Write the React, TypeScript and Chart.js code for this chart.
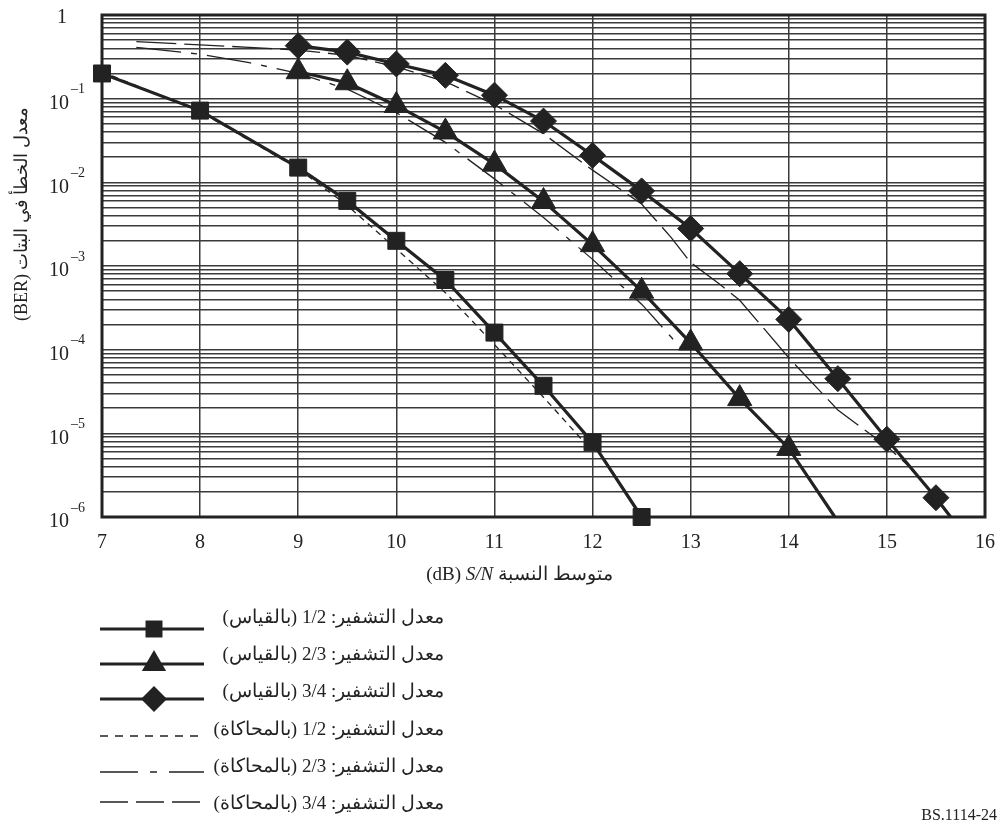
import React, { useEffect, useRef } from 'react';
import { Chart, registerables } from 'chart.js';

Chart.register(...registerables);

// ---- Data ----
const xTickValues = [7, 8, 9, 10, 11, 12, 13, 14, 15, 16];
const yDecadeExponents = [0, -1, -2, -3, -4, -5, -6];

// Measured, code rate 1/2 (squares)
const snrMeasured12 = [7, 8, 9, 9.5, 10, 10.5, 11, 11.5, 12, 12.5];
const berMeasured12 = [0.2, 0.072, 0.015, 0.006, 0.002, 6.8e-4, 1.6e-4, 3.7e-5, 7.8e-6, 1e-6];

// Measured, code rate 2/3 (triangles) - last point is where the line leaves the plot
const snrMeasured23 = [9, 9.5, 10, 10.5, 11, 11.5, 12, 12.5, 13, 13.5, 14, 14.47];
const berMeasured23 = [0.21, 0.155, 0.083, 0.04, 0.0165, 0.0059, 0.0018, 5e-4, 1.2e-4, 2.6e-5, 6.6e-6, 1e-6];

// Measured, code rate 3/4 (diamonds)
const snrMeasured34 = [9, 9.5, 10, 10.5, 11, 11.5, 12, 12.5, 13, 13.5, 14, 14.5, 15, 15.5, 15.65];
const berMeasured34 = [0.43, 0.36, 0.26, 0.19, 0.11, 0.054, 0.021, 0.0079, 0.0028, 8.1e-4, 2.3e-4, 4.5e-5, 8.5e-6, 1.7e-6, 1e-6];

// Simulated curves
const snrSimulated12 = [7, 8, 9, 9.5, 10, 10.5, 11, 11.5, 11.93];
const berSimulated12 = [0.21, 0.07, 0.0145, 0.0053, 0.0016, 4.8e-4, 1.15e-4, 2.7e-5, 7.5e-6];

const snrSimulated23 = [7.35, 8, 8.5, 9, 9.5, 10, 10.5, 11, 11.5, 12, 12.5, 12.9];
const berSimulated23 = [0.41, 0.34, 0.27, 0.2, 0.13, 0.068, 0.03, 0.011, 0.0038, 0.0012, 3.5e-4, 1.05e-4];

const snrSimulated34 = [7.35, 8, 8.5, 9, 9.5, 10, 10.5, 11, 11.5, 12, 12.5, 12.8, 13, 13.3, 13.5, 14, 14.5, 15, 15.25];
const berSimulated34 = [0.48, 0.44, 0.41, 0.38, 0.33, 0.24, 0.16, 0.085, 0.038, 0.014, 0.0055, 0.0022, 0.0011, 6e-4, 3.9e-4, 8e-5, 1.9e-5, 7e-6, 3.8e-6];

const legendLabels = [
  'معدل التشفير: 1/2 (بالقياس)',
  'معدل التشفير: 2/3 (بالقياس)',
  'معدل التشفير: 3/4 (بالقياس)',
  'معدل التشفير: 1/2 (بالمحاكاة)',
  'معدل التشفير: 2/3 (بالمحاكاة)',
  'معدل التشفير: 3/4 (بالمحاكاة)',
];
const yAxisTitle = 'معدل الخطأ في البتات (BER)';
const xTitleArabic = 'متوسط النسبة';
const xTitleItalic = 'S/N';
const xTitleUnit = '(dB)';
const figureId = 'BS.1114-24';

// ---- Styling ----
const INK = '#222222';
const GRID = '#3a3a3a';
const SERIF = "'Liberation Serif', 'Times New Roman', 'DejaVu Serif', serif";

const pts = (xs: number[], ys: number[]) => xs.map((x, i) => ({ x, y: ys[i] }));

function yTickList(): number[] {
  const out: number[] = [];
  for (let e = -6; e <= 0; e++) {
    for (let m = 1; m <= 9; m++) {
      const v = m * Math.pow(10, e);
      if (v <= 1.0000001) out.push(v);
    }
  }
  return out;
}

function drawMarker(ctx: CanvasRenderingContext2D, style: string, x: number, y: number, r: number) {
  ctx.beginPath();
  if (style === 'rect') {
    const s = r * Math.SQRT1_2;
    ctx.rect(x - s, y - s, 2 * s, 2 * s);
  } else if (style === 'triangle') {
    for (let i = 0; i < 3; i++) {
      const a = (i * 2 * Math.PI) / 3;
      const px = x + Math.sin(a) * r;
      const py = y - Math.cos(a) * r;
      if (i === 0) ctx.moveTo(px, py);
      else ctx.lineTo(px, py);
    }
  } else {
    ctx.moveTo(x - r, y);
    ctx.lineTo(x, y - r);
    ctx.lineTo(x + r, y);
    ctx.lineTo(x, y + r);
  }
  ctx.closePath();
  ctx.fill();
}

const overlayPlugin = {
  id: 'overlayPlugin',
  beforeDatasetsDraw(chart: any) {
    const { ctx, chartArea: a } = chart;
    ctx.save();
    ctx.strokeStyle = INK;
    ctx.lineWidth = 3;
    ctx.strokeRect(a.left, a.top, a.right - a.left, a.bottom - a.top);
    ctx.restore();
  },
  afterDraw(chart: any) {
    const ctx: CanvasRenderingContext2D = chart.ctx;
    const yScale = chart.scales.y;
    const a = chart.chartArea;
    ctx.save();
    ctx.fillStyle = INK;
    ctx.strokeStyle = INK;

    // y tick labels with superscripts
    yDecadeExponents.forEach((e) => {
      const py = yScale.getPixelForValue(Math.pow(10, e));
      ctx.textBaseline = 'middle';
      ctx.direction = 'ltr';
      if (e === 0) {
        ctx.font = `20px ${SERIF}`;
        ctx.textAlign = 'center';
        ctx.fillText('1', 62, py + 3);
      } else {
        ctx.font = `20px ${SERIF}`;
        ctx.textAlign = 'right';
        ctx.fillText('10', 69, py + 5);
        ctx.font = `14px ${SERIF}`;
        ctx.textAlign = 'left';
        ctx.fillText('\u2013' + Math.abs(e), 71, py - 9);
      }
    });

    // y axis title (rotated)
    ctx.save();
    ctx.translate(22, 214);
    ctx.rotate(-Math.PI / 2);
    ctx.font = `18px ${SERIF}`;
    ctx.direction = 'rtl';
    ctx.textAlign = 'center';
    ctx.textBaseline = 'middle';
    ctx.fillText(yAxisTitle, 0, 0);
    ctx.restore();

    // x axis title: "(dB) S/N متوسط النسبة"
    const titleY = 575;
    ctx.textBaseline = 'middle';
    ctx.direction = 'ltr';
    ctx.textAlign = 'left';
    ctx.font = `19px ${SERIF}`;
    const unitText = xTitleUnit + ' ';
    const wUnit = ctx.measureText(unitText).width;
    ctx.font = `italic 19px ${SERIF}`;
    const wItal = ctx.measureText(xTitleItalic).width;
    ctx.font = `19px ${SERIF}`;
    const wSpace = ctx.measureText(' ').width;
    ctx.direction = 'rtl';
    const wAr = ctx.measureText(xTitleArabic).width;
    const total = wUnit + wItal + wSpace + wAr;
    let cx = (a.left + a.right) / 2 - 24 - total / 2;
    ctx.direction = 'ltr';
    ctx.font = `19px ${SERIF}`;
    ctx.fillText(unitText, cx, titleY);
    cx += wUnit;
    ctx.font = `italic 19px ${SERIF}`;
    ctx.fillText(xTitleItalic, cx, titleY);
    cx += wItal + wSpace;
    ctx.font = `19px ${SERIF}`;
    ctx.direction = 'rtl';
    ctx.textAlign = 'left';
    ctx.fillText(xTitleArabic, cx, titleY);

    // legend
    const lineY = [629, 664, 699, 736, 772, 802];
    const textY = [618, 655, 692, 730, 767, 804];
    const x0 = 100;
    const x1 = 204;
    const markerStyles = ['rect', 'triangle', 'rectRot'];
    const markerR = [12, 14, 13];
    const simDashes = [[8, 7], [38, 12, 7, 12], [28, 8]];
    for (let i = 0; i < 6; i++) {
      ctx.save();
      ctx.beginPath();
      if (i < 3) {
        ctx.lineWidth = 3;
        ctx.setLineDash([]);
      } else {
        ctx.lineWidth = 1.4;
        ctx.setLineDash(simDashes[i - 3]);
      }
      ctx.moveTo(x0, lineY[i]);
      ctx.lineTo(x1, lineY[i]);
      ctx.stroke();
      ctx.setLineDash([]);
      if (i < 3) drawMarker(ctx, markerStyles[i], 154, lineY[i], markerR[i]);
      ctx.restore();

      ctx.font = `19px ${SERIF}`;
      ctx.direction = 'rtl';
      ctx.textAlign = 'right';
      ctx.textBaseline = 'middle';
      ctx.fillText(legendLabels[i], 444, textY[i]);
    }

    // figure id
    ctx.direction = 'ltr';
    ctx.textAlign = 'right';
    ctx.font = `16px ${SERIF}`;
    ctx.fillText(figureId, 997, 816);
    ctx.restore();
  },
};

export default function App() {
  const canvasRef = useRef<HTMLCanvasElement | null>(null);

  useEffect(() => {
    if (!canvasRef.current) return;
    const ticksY = yTickList();
    const measuredBase = {
      borderColor: INK,
      backgroundColor: INK,
      borderWidth: 3.2,
      pointBackgroundColor: INK,
      pointBorderColor: INK,
      pointBorderWidth: 1,
      tension: 0,
      clip: false as any,
    };
    const simBase = {
      borderColor: INK,
      backgroundColor: INK,
      borderWidth: 1.3,
      pointRadius: 0,
      tension: 0,
    };
    const lastHidden = (n: number, r: number) => Array.from({ length: n }, (_, i) => (i === n - 1 ? 0 : r));

    const chart = new Chart(canvasRef.current, {
      type: 'line',
      data: {
        datasets: [
          {
            ...measuredBase,
            label: legendLabels[0],
            data: pts(snrMeasured12, berMeasured12),
            pointStyle: 'rect',
            pointRadius: 12,
          },
          {
            ...measuredBase,
            label: legendLabels[1],
            data: pts(snrMeasured23, berMeasured23),
            pointStyle: 'triangle',
            pointRadius: lastHidden(snrMeasured23.length, 14),
          },
          {
            ...measuredBase,
            label: legendLabels[2],
            data: pts(snrMeasured34, berMeasured34),
            pointStyle: 'rectRot',
            pointRadius: lastHidden(snrMeasured34.length, 13),
          },
          {
            ...simBase,
            label: legendLabels[3],
            data: pts(snrSimulated12, berSimulated12),
            borderDash: [6, 5],
          },
          {
            ...simBase,
            label: legendLabels[4],
            data: pts(snrSimulated23, berSimulated23),
            borderDash: [45, 10, 6, 10],
          },
          {
            ...simBase,
            label: legendLabels[5],
            data: pts(snrSimulated34, berSimulated34),
            borderDash: [40, 8],
          },
        ] as any,
      },
      options: {
        responsive: false,
        animation: false,
        events: [],
        layout: { padding: { left: 0, top: 12, right: 12, bottom: 0 } },
        plugins: {
          legend: { display: false },
          tooltip: { enabled: false },
          title: { display: false },
        },
        scales: {
          x: {
            type: 'linear',
            min: 7,
            max: 16,
            afterBuildTicks: (scale: any) => {
              scale.ticks = xTickValues.map((v) => ({ value: v }));
            },
            afterFit: (scale: any) => {
              scale.height = 827 - 517;
              scale.paddingLeft = 0;
              scale.paddingRight = 0;
            },
            ticks: {
              color: INK,
              font: { family: SERIF, size: 20 },
              padding: 14,
              autoSkip: false,
              maxRotation: 0,
            },
            grid: { color: GRID, lineWidth: 1.5, drawTicks: false },
            border: { display: false },
          },
          y: {
            type: 'logarithmic',
            min: 1e-6,
            max: 1,
            afterBuildTicks: (scale: any) => {
              scale.ticks = ticksY.map((v) => ({ value: v }));
            },
            afterFit: (scale: any) => {
              scale.width = 102;
              scale.paddingTop = 0;
              scale.paddingBottom = 0;
            },
            ticks: { display: false, autoSkip: false },
            grid: { color: GRID, lineWidth: 1.5, drawTicks: false },
            border: { display: false },
          },
        },
      } as any,
      plugins: [overlayPlugin],
    });
    return () => chart.destroy();
  }, []);

  return (
    <div style={{ position: 'absolute', left: 0, top: 0, width: 1000, height: 827, background: '#fff' }}>
      <canvas ref={canvasRef} width={1000} height={827} style={{ display: 'block' }} />
    </div>
  );
}
